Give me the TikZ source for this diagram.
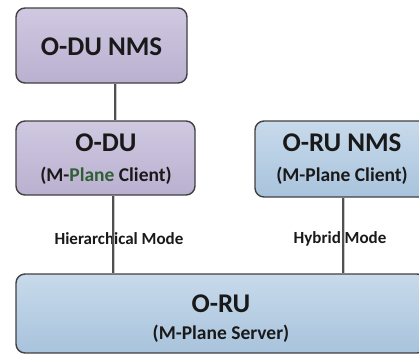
\documentclass[tikz,border=0pt]{standalone}
\usepackage{fontspec}
\setmainfont{Carlito}
\definecolor{lilacTop}{HTML}{D0C9E1}
\definecolor{lilacBot}{HTML}{BAB0D0}
\definecolor{skyTop}{HTML}{C8DAEB}
\definecolor{skyBot}{HTML}{A8C3DC}
\definecolor{edge}{HTML}{404040}
\definecolor{linkdark}{HTML}{505050}
\definecolor{linklight}{HTML}{C8C8C8}
\definecolor{planegreen}{HTML}{2F5F34}
\begin{document}
\begin{tikzpicture}[x=1pt,y=-1pt,
  boxbase/.style={draw=edge,line width=1.4pt,rounded corners=9pt,inner sep=0pt},
  lilacbox/.style={boxbase,top color=lilacTop,bottom color=lilacBot},
  skybox/.style={boxbase,top color=skyTop,bottom color=skyBot},
  bigtext/.style={font=\bfseries\fontsize{27}{29}\selectfont,text=black!90},
  smalltext/.style={font=\bfseries\fontsize{19.5}{21}\selectfont,text=black!90},
  modetext/.style={font=\bfseries\fontsize{17}{19}\selectfont,text=black!90},
  link/.style={draw=linkdark,line width=1.1pt},
  linkshade/.style={draw=linklight,line width=1pt}
]
\useasboundingbox (0,0) rectangle (419,354);
\clip (0,0) rectangle (419,354);

% boxes
\node[lilacbox,minimum width=171pt,minimum height=75pt] (nms) at (101.5,45.5) {};
\node[lilacbox,minimum width=179pt,minimum height=74pt] (odu) at (105.5,158) {};
\node[skybox,minimum width=174pt,minimum height=76pt] (runms) at (342,159) {};
\node[skybox,minimum width=410pt,minimum height=79pt] (oru) at (221,313.5) {};

% box texts
\node[bigtext] (nmsT) at (101.5,46.5) {O-DU NMS};
\node[bigtext] (oduT) at (106,142.5) {O-DU};
\node[smalltext] (oduS) at (106,176) {(M-\textcolor{planegreen}{Plane} Client)};
\node[bigtext] (runmsT) at (342,143) {O-RU NMS};
\node[smalltext] (runmsS) at (342,176) {(M-Plane Client)};
\node[bigtext] (oruT) at (221,304) {O-RU};
\node[smalltext] (oruS) at (221,334) {(M-Plane Server)};

% connector columns
\coordinate (c1) at (115,0);
\coordinate (c2) at (113,0);
\coordinate (c3) at (343,0);

% connectors: a light shade beside a dark stroke
\draw[linkshade] ([xshift=1.3pt]nms.south -| c1) -- ([xshift=1.3pt]odu.north -| c1);
\draw[link] (nms.south -| c1) -- (odu.north -| c1);
\draw[linkshade] ([xshift=1.3pt]odu.south -| c2) -- ([xshift=1.3pt]oru.north -| c2);
\draw[linkshade] ([xshift=1.3pt]runms.south -| c3) -- ([xshift=1.3pt]oru.north -| c3);

% mode labels sit over the lines
\node[modetext] (hier) at (119,239) {Hierarchical Mode};
\node[modetext] (hyb) at (340,239) {Hybrid Mode};

\draw[link] (odu.south -| c2) -- (oru.north -| c2);
\draw[link] (runms.south -| c3) -- (oru.north -| c3);
\end{tikzpicture}
\end{document}
